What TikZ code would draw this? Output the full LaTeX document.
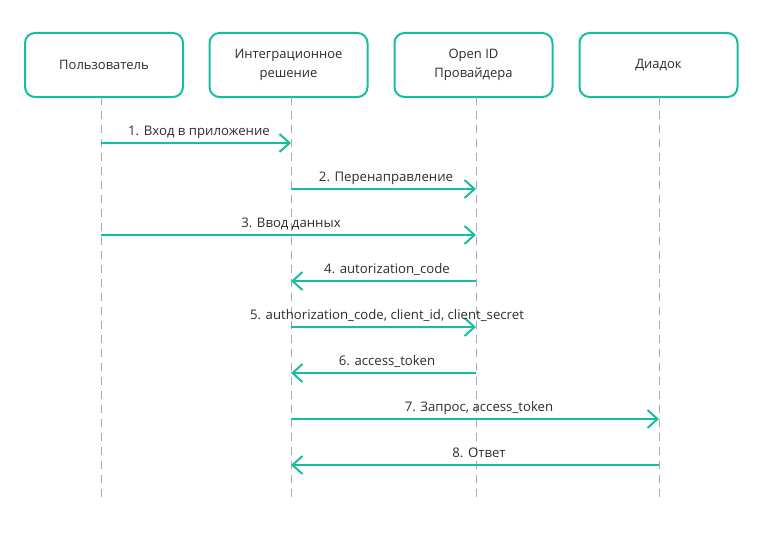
\documentclass[tikz,border=0pt]{standalone}
\usepackage{fontspec}
\setmainfont{Open Sans}
\usetikzlibrary{arrows.meta}
\definecolor{teal1}{RGB}{22,190,160}
\definecolor{txt}{RGB}{45,45,45}
\definecolor{life}{RGB}{170,170,170}
\begin{document}
\begin{tikzpicture}[x=1pt,y=-1pt,
  actor/.style={draw=teal1,line width=2pt,rounded corners=10pt,fill=white,minimum width=158pt,minimum height=64pt,align=center,text=txt,font=\fontsize{13}{19.5}\selectfont,inner sep=0pt},
  lifeline/.style={draw=life,line width=0.9pt,dash pattern=on 8pt off 6pt},
  msg/.style={draw=teal1,line width=2pt,-{Straight Barb[length=10pt,width=18pt,line width=2pt]}},
  lbl/.style={text=txt,font=\fontsize{13.2}{15}\selectfont,inner sep=0pt,anchor=base}]
\useasboundingbox (0,0) rectangle (763,535);
\node[actor] (a) at (104,65) {Пользователь};
\node[actor] (b) at (288.5,65) {Интеграционное\\решение};
\node[actor] (c) at (473.5,65) {Open ID\\Провайдера};
\node[actor] (d) at (658.5,65) {Диадок};
\coordinate (la) at (101,97); \coordinate (laE) at (101,502);
\coordinate (lb) at (291,97); \coordinate (lbE) at (291,502);
\coordinate (lc) at (476,97); \coordinate (lcE) at (476,502);
\coordinate (ld) at (659,97); \coordinate (ldE) at (659,502);
\draw[lifeline] (la) -- (laE);
\draw[lifeline] (lb) -- (lbE);
\draw[lifeline] (lc) -- (lcE);
\draw[lifeline] (ld) -- (ldE);
\foreach \n/\y in {1/143,2/189,3/235,4/281,5/327,6/373,7/419,8/465}{
  \coordinate (pa\n) at (101,\y);
  \coordinate (pb\n) at (291,\y);
  \coordinate (pc\n) at (476,\y);
  \coordinate (pd\n) at (659,\y);
}
\draw[msg] (pa1) -- (pb1);
\draw[msg] (pb2) -- (pc2);
\draw[msg] (pa3) -- (pc3);
\draw[msg] (pc4) -- (pb4);
\draw[msg] (pb5) -- (pc5);
\draw[msg] (pc6) -- (pb6);
\draw[msg] (pb7) -- (pd7);
\draw[msg] (pd8) -- (pb8);
\node[lbl] (t1) at (199,135) {1. Вход в приложение};
\node[lbl] (t2) at (386,181) {2. Перенаправление};
\node[lbl] (t3) at (291,227) {3. Ввод данных};
\node[lbl] (t4) at (387,273) {4. autorization\_code};
\node[lbl] (t5) at (387,319) {5. authorization\_code, client\_id, client\_secret};
\node[lbl] (t6) at (387,365) {6. access\_token};
\node[lbl] (t7) at (479,411) {7. Запрос, access\_token};
\node[lbl] (t8) at (479,457) {8. Ответ};
\end{tikzpicture}
\end{document}
